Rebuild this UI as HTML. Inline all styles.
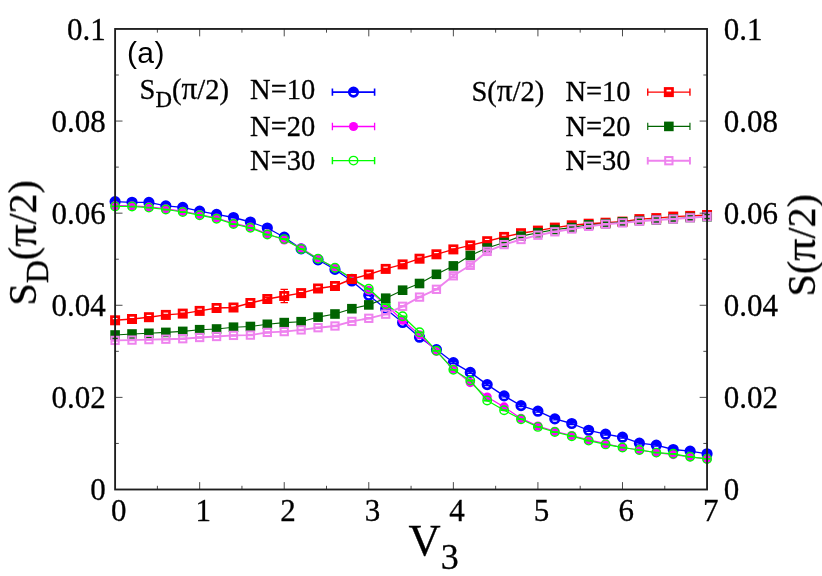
<!DOCTYPE html>
<html>
<head>
<meta charset="utf-8">
<title>Structure factors vs V3</title>
<style>
html,body{margin:0;padding:0;background:#fff;}
body{width:822px;height:576px;overflow:hidden;font-family:"Liberation Serif",serif;}
svg{display:block;}
</style>
</head>
<body>
<svg width="822" height="576" viewBox="0 0 822 576">
<rect width="822" height="576" fill="#fff"/>
<g font-family="'Liberation Serif', serif" fill="#000" stroke="#000" stroke-width="0.3" style="will-change:transform">
<g transform="translate(105.8 500.15)"><text transform="translate(-15.5 0)" font-size="31.0">0</text></g>
<g transform="translate(723.8 500.15)"><text transform="translate(0 0)" font-size="31.0">0</text></g>
<g transform="translate(105.8 408.04)"><text transform="translate(-54.25 0)" font-size="31.0">0.02</text></g>
<g transform="translate(723.8 408.04)"><text transform="translate(0 0)" font-size="31.0">0.02</text></g>
<g transform="translate(105.8 315.93)"><text transform="translate(-54.25 0)" font-size="31.0">0.04</text></g>
<g transform="translate(723.8 315.93)"><text transform="translate(0 0)" font-size="31.0">0.04</text></g>
<g transform="translate(105.8 223.82)"><text transform="translate(-54.25 0)" font-size="31.0">0.06</text></g>
<g transform="translate(723.8 223.82)"><text transform="translate(0 0)" font-size="31.0">0.06</text></g>
<g transform="translate(105.8 131.71)"><text transform="translate(-54.25 0)" font-size="31.0">0.08</text></g>
<g transform="translate(723.8 131.71)"><text transform="translate(0 0)" font-size="31.0">0.08</text></g>
<g transform="translate(105.8 39.6)"><text transform="translate(-38.75 0)" font-size="31.0">0.1</text></g>
<g transform="translate(723.8 39.6)"><text transform="translate(0 0)" font-size="31.0">0.1</text></g>
<g transform="translate(118.8 521)"><text transform="translate(-7.75 0)" font-size="31.0">0</text></g>
<g transform="translate(203.36 521)"><text transform="translate(-7.75 0)" font-size="31.0">1</text></g>
<g transform="translate(287.93 521)"><text transform="translate(-7.75 0)" font-size="31.0">2</text></g>
<g transform="translate(372.49 521)"><text transform="translate(-7.75 0)" font-size="31.0">3</text></g>
<g transform="translate(457.06 521)"><text transform="translate(-7.75 0)" font-size="31.0">4</text></g>
<g transform="translate(541.62 521)"><text transform="translate(-7.75 0)" font-size="31.0">5</text></g>
<g transform="translate(626.19 521)"><text transform="translate(-7.75 0)" font-size="31.0">6</text></g>
<g transform="translate(710.75 521)"><text transform="translate(-7.75 0)" font-size="31.0">7</text></g>
</g>
<g id="data">
<polyline points="115.1,201.6 132.01,202.3 148.93,202.4 165.84,205.9 182.75,207.4 199.66,211.2 216.58,214.4 233.49,217.5 250.4,222 267.32,228 284.23,237.2 301.14,248.9 318.05,259.8 334.97,269.4 351.88,281 368.79,295.3 385.71,308.8 402.62,322.5 419.53,337.2 436.44,349.6 453.36,362.6 470.27,372.4 487.18,384.6 504.1,395.9 521.01,405.6 537.92,411.2 554.83,418.9 571.75,423.5 588.66,430.3 605.57,434.2 622.49,437.2 639.4,443.2 656.31,445.2 673.22,449.5 690.14,451.2 707.05,453.8" fill="none" stroke="#0000ff" stroke-width="1.3" stroke-linejoin="round"/>
<path d="M115.1 201.2V202M111.4 201.2H118.8M111.4 202H118.8" stroke="#0000ff" stroke-width="1.3" fill="none"/>
<path d="M132.01 201.9V202.7M128.31 201.9H135.71M128.31 202.7H135.71" stroke="#0000ff" stroke-width="1.3" fill="none"/>
<path d="M148.93 202V202.8M145.23 202H152.63M145.23 202.8H152.63" stroke="#0000ff" stroke-width="1.3" fill="none"/>
<path d="M165.84 205.5V206.3M162.14 205.5H169.54M162.14 206.3H169.54" stroke="#0000ff" stroke-width="1.3" fill="none"/>
<path d="M182.75 207V207.8M179.05 207H186.45M179.05 207.8H186.45" stroke="#0000ff" stroke-width="1.3" fill="none"/>
<path d="M199.66 210.8V211.6M195.96 210.8H203.36M195.96 211.6H203.36" stroke="#0000ff" stroke-width="1.3" fill="none"/>
<path d="M216.58 214V214.8M212.88 214H220.28M212.88 214.8H220.28" stroke="#0000ff" stroke-width="1.3" fill="none"/>
<path d="M233.49 217.1V217.9M229.79 217.1H237.19M229.79 217.9H237.19" stroke="#0000ff" stroke-width="1.3" fill="none"/>
<path d="M250.4 221.6V222.4M246.7 221.6H254.1M246.7 222.4H254.1" stroke="#0000ff" stroke-width="1.3" fill="none"/>
<path d="M267.32 227.6V228.4M263.62 227.6H271.02M263.62 228.4H271.02" stroke="#0000ff" stroke-width="1.3" fill="none"/>
<path d="M284.23 236.8V237.6M280.53 236.8H287.93M280.53 237.6H287.93" stroke="#0000ff" stroke-width="1.3" fill="none"/>
<path d="M301.14 248.5V249.3M297.44 248.5H304.84M297.44 249.3H304.84" stroke="#0000ff" stroke-width="1.3" fill="none"/>
<path d="M318.05 259.4V260.2M314.35 259.4H321.75M314.35 260.2H321.75" stroke="#0000ff" stroke-width="1.3" fill="none"/>
<path d="M334.97 269V269.8M331.27 269H338.67M331.27 269.8H338.67" stroke="#0000ff" stroke-width="1.3" fill="none"/>
<path d="M351.88 280.6V281.4M348.18 280.6H355.58M348.18 281.4H355.58" stroke="#0000ff" stroke-width="1.3" fill="none"/>
<path d="M368.79 294.9V295.7M365.09 294.9H372.49M365.09 295.7H372.49" stroke="#0000ff" stroke-width="1.3" fill="none"/>
<path d="M385.71 308.4V309.2M382.01 308.4H389.41M382.01 309.2H389.41" stroke="#0000ff" stroke-width="1.3" fill="none"/>
<path d="M402.62 322.1V322.9M398.92 322.1H406.32M398.92 322.9H406.32" stroke="#0000ff" stroke-width="1.3" fill="none"/>
<path d="M419.53 336.8V337.6M415.83 336.8H423.23M415.83 337.6H423.23" stroke="#0000ff" stroke-width="1.3" fill="none"/>
<path d="M436.44 348.6V350.6M432.74 348.6H440.14M432.74 350.6H440.14" stroke="#0000ff" stroke-width="1.3" fill="none"/>
<path d="M453.36 361.6V363.6M449.66 361.6H457.06M449.66 363.6H457.06" stroke="#0000ff" stroke-width="1.3" fill="none"/>
<path d="M470.27 371.4V373.4M466.57 371.4H473.97M466.57 373.4H473.97" stroke="#0000ff" stroke-width="1.3" fill="none"/>
<path d="M487.18 383.6V385.6M483.48 383.6H490.88M483.48 385.6H490.88" stroke="#0000ff" stroke-width="1.3" fill="none"/>
<path d="M504.1 394.9V396.9M500.4 394.9H507.8M500.4 396.9H507.8" stroke="#0000ff" stroke-width="1.3" fill="none"/>
<path d="M521.01 404.6V406.6M517.31 404.6H524.71M517.31 406.6H524.71" stroke="#0000ff" stroke-width="1.3" fill="none"/>
<path d="M537.92 410.2V412.2M534.22 410.2H541.62M534.22 412.2H541.62" stroke="#0000ff" stroke-width="1.3" fill="none"/>
<path d="M554.83 417.9V419.9M551.13 417.9H558.53M551.13 419.9H558.53" stroke="#0000ff" stroke-width="1.3" fill="none"/>
<path d="M571.75 422.5V424.5M568.05 422.5H575.45M568.05 424.5H575.45" stroke="#0000ff" stroke-width="1.3" fill="none"/>
<path d="M588.66 429.3V431.3M584.96 429.3H592.36M584.96 431.3H592.36" stroke="#0000ff" stroke-width="1.3" fill="none"/>
<path d="M605.57 433.2V435.2M601.87 433.2H609.27M601.87 435.2H609.27" stroke="#0000ff" stroke-width="1.3" fill="none"/>
<path d="M622.49 436.2V438.2M618.79 436.2H626.19M618.79 438.2H626.19" stroke="#0000ff" stroke-width="1.3" fill="none"/>
<path d="M639.4 442.2V444.2M635.7 442.2H643.1M635.7 444.2H643.1" stroke="#0000ff" stroke-width="1.3" fill="none"/>
<path d="M656.31 444.2V446.2M652.61 444.2H660.01M652.61 446.2H660.01" stroke="#0000ff" stroke-width="1.3" fill="none"/>
<path d="M673.22 448.5V450.5M669.52 448.5H676.92M669.52 450.5H676.92" stroke="#0000ff" stroke-width="1.3" fill="none"/>
<path d="M690.14 450.2V452.2M686.44 450.2H693.84M686.44 452.2H693.84" stroke="#0000ff" stroke-width="1.3" fill="none"/>
<path d="M707.05 452.8V454.8M703.35 452.8H710.75M703.35 454.8H710.75" stroke="#0000ff" stroke-width="1.3" fill="none"/>
<path d="M110.85 201.6A4.25 4.25 0 0 1 119.35 201.6Z" fill="#0000ff"/><circle cx="115.1" cy="201.6" r="4.25" fill="none" stroke="#0000ff" stroke-width="2.7"/>
<path d="M127.76 202.3A4.25 4.25 0 0 1 136.26 202.3Z" fill="#0000ff"/><circle cx="132.01" cy="202.3" r="4.25" fill="none" stroke="#0000ff" stroke-width="2.7"/>
<path d="M144.68 202.4A4.25 4.25 0 0 1 153.18 202.4Z" fill="#0000ff"/><circle cx="148.93" cy="202.4" r="4.25" fill="none" stroke="#0000ff" stroke-width="2.7"/>
<path d="M161.59 205.9A4.25 4.25 0 0 1 170.09 205.9Z" fill="#0000ff"/><circle cx="165.84" cy="205.9" r="4.25" fill="none" stroke="#0000ff" stroke-width="2.7"/>
<path d="M178.5 207.4A4.25 4.25 0 0 1 187 207.4Z" fill="#0000ff"/><circle cx="182.75" cy="207.4" r="4.25" fill="none" stroke="#0000ff" stroke-width="2.7"/>
<path d="M195.41 211.2A4.25 4.25 0 0 1 203.91 211.2Z" fill="#0000ff"/><circle cx="199.66" cy="211.2" r="4.25" fill="none" stroke="#0000ff" stroke-width="2.7"/>
<path d="M212.33 214.4A4.25 4.25 0 0 1 220.83 214.4Z" fill="#0000ff"/><circle cx="216.58" cy="214.4" r="4.25" fill="none" stroke="#0000ff" stroke-width="2.7"/>
<path d="M229.24 217.5A4.25 4.25 0 0 1 237.74 217.5Z" fill="#0000ff"/><circle cx="233.49" cy="217.5" r="4.25" fill="none" stroke="#0000ff" stroke-width="2.7"/>
<path d="M246.15 222A4.25 4.25 0 0 1 254.65 222Z" fill="#0000ff"/><circle cx="250.4" cy="222" r="4.25" fill="none" stroke="#0000ff" stroke-width="2.7"/>
<path d="M263.07 228A4.25 4.25 0 0 1 271.57 228Z" fill="#0000ff"/><circle cx="267.32" cy="228" r="4.25" fill="none" stroke="#0000ff" stroke-width="2.7"/>
<path d="M279.98 237.2A4.25 4.25 0 0 1 288.48 237.2Z" fill="#0000ff"/><circle cx="284.23" cy="237.2" r="4.25" fill="none" stroke="#0000ff" stroke-width="2.7"/>
<path d="M296.89 248.9A4.25 4.25 0 0 1 305.39 248.9Z" fill="#0000ff"/><circle cx="301.14" cy="248.9" r="4.25" fill="none" stroke="#0000ff" stroke-width="2.7"/>
<path d="M313.8 259.8A4.25 4.25 0 0 1 322.3 259.8Z" fill="#0000ff"/><circle cx="318.05" cy="259.8" r="4.25" fill="none" stroke="#0000ff" stroke-width="2.7"/>
<path d="M330.72 269.4A4.25 4.25 0 0 1 339.22 269.4Z" fill="#0000ff"/><circle cx="334.97" cy="269.4" r="4.25" fill="none" stroke="#0000ff" stroke-width="2.7"/>
<path d="M347.63 281A4.25 4.25 0 0 1 356.13 281Z" fill="#0000ff"/><circle cx="351.88" cy="281" r="4.25" fill="none" stroke="#0000ff" stroke-width="2.7"/>
<path d="M364.54 295.3A4.25 4.25 0 0 1 373.04 295.3Z" fill="#0000ff"/><circle cx="368.79" cy="295.3" r="4.25" fill="none" stroke="#0000ff" stroke-width="2.7"/>
<path d="M381.46 308.8A4.25 4.25 0 0 1 389.96 308.8Z" fill="#0000ff"/><circle cx="385.71" cy="308.8" r="4.25" fill="none" stroke="#0000ff" stroke-width="2.7"/>
<path d="M398.37 322.5A4.25 4.25 0 0 1 406.87 322.5Z" fill="#0000ff"/><circle cx="402.62" cy="322.5" r="4.25" fill="none" stroke="#0000ff" stroke-width="2.7"/>
<path d="M415.28 337.2A4.25 4.25 0 0 1 423.78 337.2Z" fill="#0000ff"/><circle cx="419.53" cy="337.2" r="4.25" fill="none" stroke="#0000ff" stroke-width="2.7"/>
<path d="M432.19 349.6A4.25 4.25 0 0 1 440.69 349.6Z" fill="#0000ff"/><circle cx="436.44" cy="349.6" r="4.25" fill="none" stroke="#0000ff" stroke-width="2.7"/>
<path d="M449.11 362.6A4.25 4.25 0 0 1 457.61 362.6Z" fill="#0000ff"/><circle cx="453.36" cy="362.6" r="4.25" fill="none" stroke="#0000ff" stroke-width="2.7"/>
<path d="M466.02 372.4A4.25 4.25 0 0 1 474.52 372.4Z" fill="#0000ff"/><circle cx="470.27" cy="372.4" r="4.25" fill="none" stroke="#0000ff" stroke-width="2.7"/>
<path d="M482.93 384.6A4.25 4.25 0 0 1 491.43 384.6Z" fill="#0000ff"/><circle cx="487.18" cy="384.6" r="4.25" fill="none" stroke="#0000ff" stroke-width="2.7"/>
<path d="M499.85 395.9A4.25 4.25 0 0 1 508.35 395.9Z" fill="#0000ff"/><circle cx="504.1" cy="395.9" r="4.25" fill="none" stroke="#0000ff" stroke-width="2.7"/>
<path d="M516.76 405.6A4.25 4.25 0 0 1 525.26 405.6Z" fill="#0000ff"/><circle cx="521.01" cy="405.6" r="4.25" fill="none" stroke="#0000ff" stroke-width="2.7"/>
<path d="M533.67 411.2A4.25 4.25 0 0 1 542.17 411.2Z" fill="#0000ff"/><circle cx="537.92" cy="411.2" r="4.25" fill="none" stroke="#0000ff" stroke-width="2.7"/>
<path d="M550.58 418.9A4.25 4.25 0 0 1 559.08 418.9Z" fill="#0000ff"/><circle cx="554.83" cy="418.9" r="4.25" fill="none" stroke="#0000ff" stroke-width="2.7"/>
<path d="M567.5 423.5A4.25 4.25 0 0 1 576 423.5Z" fill="#0000ff"/><circle cx="571.75" cy="423.5" r="4.25" fill="none" stroke="#0000ff" stroke-width="2.7"/>
<path d="M584.41 430.3A4.25 4.25 0 0 1 592.91 430.3Z" fill="#0000ff"/><circle cx="588.66" cy="430.3" r="4.25" fill="none" stroke="#0000ff" stroke-width="2.7"/>
<path d="M601.32 434.2A4.25 4.25 0 0 1 609.82 434.2Z" fill="#0000ff"/><circle cx="605.57" cy="434.2" r="4.25" fill="none" stroke="#0000ff" stroke-width="2.7"/>
<path d="M618.24 437.2A4.25 4.25 0 0 1 626.74 437.2Z" fill="#0000ff"/><circle cx="622.49" cy="437.2" r="4.25" fill="none" stroke="#0000ff" stroke-width="2.7"/>
<path d="M635.15 443.2A4.25 4.25 0 0 1 643.65 443.2Z" fill="#0000ff"/><circle cx="639.4" cy="443.2" r="4.25" fill="none" stroke="#0000ff" stroke-width="2.7"/>
<path d="M652.06 445.2A4.25 4.25 0 0 1 660.56 445.2Z" fill="#0000ff"/><circle cx="656.31" cy="445.2" r="4.25" fill="none" stroke="#0000ff" stroke-width="2.7"/>
<path d="M668.97 449.5A4.25 4.25 0 0 1 677.47 449.5Z" fill="#0000ff"/><circle cx="673.22" cy="449.5" r="4.25" fill="none" stroke="#0000ff" stroke-width="2.7"/>
<path d="M685.89 451.2A4.25 4.25 0 0 1 694.39 451.2Z" fill="#0000ff"/><circle cx="690.14" cy="451.2" r="4.25" fill="none" stroke="#0000ff" stroke-width="2.7"/>
<path d="M702.8 453.8A4.25 4.25 0 0 1 711.3 453.8Z" fill="#0000ff"/><circle cx="707.05" cy="453.8" r="4.25" fill="none" stroke="#0000ff" stroke-width="2.7"/>
<polyline points="115.1,205.7 132.01,205.8 148.93,206.9 165.84,208.8 182.75,211.3 199.66,214.5 216.58,218 233.49,223.3 250.4,227.1 267.32,233.8 284.23,240 301.14,248 318.05,258.7 334.97,267.7 351.88,278.6 368.79,290.4 385.71,304.9 402.62,320.2 419.53,334.8 436.44,351.2 453.36,369 470.27,382.6 487.18,397.1 504.1,406.9 521.01,418.4 537.92,426 554.83,431.3 571.75,435.5 588.66,439.9 605.57,443.7 622.49,447.5 639.4,450 656.31,452.6 673.22,454.6 690.14,456.8 707.05,458.9" fill="none" stroke="#ff00ff" stroke-width="1.2" stroke-linejoin="round"/>
<path d="M111.4 205.7H118.8" stroke="#ff00ff" stroke-width="1.2" fill="none"/>
<path d="M128.31 205.8H135.71" stroke="#ff00ff" stroke-width="1.2" fill="none"/>
<path d="M145.23 206.9H152.63" stroke="#ff00ff" stroke-width="1.2" fill="none"/>
<path d="M162.14 208.8H169.54" stroke="#ff00ff" stroke-width="1.2" fill="none"/>
<path d="M179.05 211.3H186.45" stroke="#ff00ff" stroke-width="1.2" fill="none"/>
<path d="M195.96 214.5H203.36" stroke="#ff00ff" stroke-width="1.2" fill="none"/>
<path d="M212.88 218H220.28" stroke="#ff00ff" stroke-width="1.2" fill="none"/>
<path d="M229.79 223.3H237.19" stroke="#ff00ff" stroke-width="1.2" fill="none"/>
<path d="M246.7 227.1H254.1" stroke="#ff00ff" stroke-width="1.2" fill="none"/>
<path d="M263.62 233.8H271.02" stroke="#ff00ff" stroke-width="1.2" fill="none"/>
<path d="M280.53 240H287.93" stroke="#ff00ff" stroke-width="1.2" fill="none"/>
<path d="M297.44 248H304.84" stroke="#ff00ff" stroke-width="1.2" fill="none"/>
<path d="M314.35 258.7H321.75" stroke="#ff00ff" stroke-width="1.2" fill="none"/>
<path d="M331.27 267.7H338.67" stroke="#ff00ff" stroke-width="1.2" fill="none"/>
<path d="M348.18 278.6H355.58" stroke="#ff00ff" stroke-width="1.2" fill="none"/>
<path d="M365.09 290.4H372.49" stroke="#ff00ff" stroke-width="1.2" fill="none"/>
<path d="M382.01 304.9H389.41" stroke="#ff00ff" stroke-width="1.2" fill="none"/>
<path d="M398.92 320.2H406.32" stroke="#ff00ff" stroke-width="1.2" fill="none"/>
<path d="M415.83 334.8H423.23" stroke="#ff00ff" stroke-width="1.2" fill="none"/>
<path d="M432.74 351.2H440.14" stroke="#ff00ff" stroke-width="1.2" fill="none"/>
<path d="M449.66 369H457.06" stroke="#ff00ff" stroke-width="1.2" fill="none"/>
<path d="M466.57 382.6H473.97" stroke="#ff00ff" stroke-width="1.2" fill="none"/>
<path d="M483.48 397.1H490.88" stroke="#ff00ff" stroke-width="1.2" fill="none"/>
<path d="M500.4 406.9H507.8" stroke="#ff00ff" stroke-width="1.2" fill="none"/>
<path d="M517.31 418.4H524.71" stroke="#ff00ff" stroke-width="1.2" fill="none"/>
<path d="M534.22 426H541.62" stroke="#ff00ff" stroke-width="1.2" fill="none"/>
<path d="M551.13 431.3H558.53" stroke="#ff00ff" stroke-width="1.2" fill="none"/>
<path d="M568.05 435.5H575.45" stroke="#ff00ff" stroke-width="1.2" fill="none"/>
<path d="M584.96 439.9H592.36" stroke="#ff00ff" stroke-width="1.2" fill="none"/>
<path d="M601.87 443.7H609.27" stroke="#ff00ff" stroke-width="1.2" fill="none"/>
<path d="M618.79 447.5H626.19" stroke="#ff00ff" stroke-width="1.2" fill="none"/>
<path d="M635.7 450H643.1" stroke="#ff00ff" stroke-width="1.2" fill="none"/>
<path d="M652.61 452.6H660.01" stroke="#ff00ff" stroke-width="1.2" fill="none"/>
<path d="M669.52 454.6H676.92" stroke="#ff00ff" stroke-width="1.2" fill="none"/>
<path d="M686.44 456.8H693.84" stroke="#ff00ff" stroke-width="1.2" fill="none"/>
<path d="M703.35 458.9H710.75" stroke="#ff00ff" stroke-width="1.2" fill="none"/>
<circle cx="115.1" cy="205.7" r="4.6" fill="#ff00ff"/>
<circle cx="132.01" cy="205.8" r="4.6" fill="#ff00ff"/>
<circle cx="148.93" cy="206.9" r="4.6" fill="#ff00ff"/>
<circle cx="165.84" cy="208.8" r="4.6" fill="#ff00ff"/>
<circle cx="182.75" cy="211.3" r="4.6" fill="#ff00ff"/>
<circle cx="199.66" cy="214.5" r="4.6" fill="#ff00ff"/>
<circle cx="216.58" cy="218" r="4.6" fill="#ff00ff"/>
<circle cx="233.49" cy="223.3" r="4.6" fill="#ff00ff"/>
<circle cx="250.4" cy="227.1" r="4.6" fill="#ff00ff"/>
<circle cx="267.32" cy="233.8" r="4.6" fill="#ff00ff"/>
<circle cx="284.23" cy="240" r="4.6" fill="#ff00ff"/>
<circle cx="301.14" cy="248" r="4.6" fill="#ff00ff"/>
<circle cx="318.05" cy="258.7" r="4.6" fill="#ff00ff"/>
<circle cx="334.97" cy="267.7" r="4.6" fill="#ff00ff"/>
<circle cx="351.88" cy="278.6" r="4.6" fill="#ff00ff"/>
<circle cx="368.79" cy="290.4" r="4.6" fill="#ff00ff"/>
<circle cx="385.71" cy="304.9" r="4.6" fill="#ff00ff"/>
<circle cx="402.62" cy="320.2" r="4.6" fill="#ff00ff"/>
<circle cx="419.53" cy="334.8" r="4.6" fill="#ff00ff"/>
<circle cx="436.44" cy="351.2" r="4.6" fill="#ff00ff"/>
<circle cx="453.36" cy="369" r="4.6" fill="#ff00ff"/>
<circle cx="470.27" cy="382.6" r="4.6" fill="#ff00ff"/>
<circle cx="487.18" cy="397.1" r="4.6" fill="#ff00ff"/>
<circle cx="504.1" cy="406.9" r="4.6" fill="#ff00ff"/>
<circle cx="521.01" cy="418.4" r="4.6" fill="#ff00ff"/>
<circle cx="537.92" cy="426" r="4.6" fill="#ff00ff"/>
<circle cx="554.83" cy="431.3" r="4.6" fill="#ff00ff"/>
<circle cx="571.75" cy="435.5" r="4.6" fill="#ff00ff"/>
<circle cx="588.66" cy="439.9" r="4.6" fill="#ff00ff"/>
<circle cx="605.57" cy="443.7" r="4.6" fill="#ff00ff"/>
<circle cx="622.49" cy="447.5" r="4.6" fill="#ff00ff"/>
<circle cx="639.4" cy="450" r="4.6" fill="#ff00ff"/>
<circle cx="656.31" cy="452.6" r="4.6" fill="#ff00ff"/>
<circle cx="673.22" cy="454.6" r="4.6" fill="#ff00ff"/>
<circle cx="690.14" cy="456.8" r="4.6" fill="#ff00ff"/>
<circle cx="707.05" cy="458.9" r="4.6" fill="#ff00ff"/>
<polyline points="115.1,206.4 132.01,206.5 148.93,207.6 165.84,209.5 182.75,212 199.66,215.2 216.58,218.7 233.49,224 250.4,227.8 267.32,234.5 284.23,239.1 301.14,249 318.05,258.7 334.97,267.7 351.88,278.6 368.79,288.8 385.71,304 402.62,316.3 419.53,332.3 436.44,350.8 453.36,369.8 470.27,380.5 487.18,400.5 504.1,410.2 521.01,419.2 537.92,426.9 554.83,432 571.75,436.2 588.66,440.6 605.57,444.4 622.49,447.5 639.4,450 656.31,452.6 673.22,453.8 690.14,456.8 707.05,458.9" fill="none" stroke="#00ff00" stroke-width="1.25" stroke-linejoin="round"/>
<path d="M115.1 206.15V206.65M111.4 206.15H118.8M111.4 206.65H118.8" stroke="#00ff00" stroke-width="1.25" fill="none"/>
<path d="M132.01 206.25V206.75M128.31 206.25H135.71M128.31 206.75H135.71" stroke="#00ff00" stroke-width="1.25" fill="none"/>
<path d="M148.93 207.35V207.85M145.23 207.35H152.63M145.23 207.85H152.63" stroke="#00ff00" stroke-width="1.25" fill="none"/>
<path d="M165.84 209.25V209.75M162.14 209.25H169.54M162.14 209.75H169.54" stroke="#00ff00" stroke-width="1.25" fill="none"/>
<path d="M182.75 211.75V212.25M179.05 211.75H186.45M179.05 212.25H186.45" stroke="#00ff00" stroke-width="1.25" fill="none"/>
<path d="M199.66 214.95V215.45M195.96 214.95H203.36M195.96 215.45H203.36" stroke="#00ff00" stroke-width="1.25" fill="none"/>
<path d="M216.58 218.45V218.95M212.88 218.45H220.28M212.88 218.95H220.28" stroke="#00ff00" stroke-width="1.25" fill="none"/>
<path d="M233.49 223.75V224.25M229.79 223.75H237.19M229.79 224.25H237.19" stroke="#00ff00" stroke-width="1.25" fill="none"/>
<path d="M250.4 227.55V228.05M246.7 227.55H254.1M246.7 228.05H254.1" stroke="#00ff00" stroke-width="1.25" fill="none"/>
<path d="M267.32 234.25V234.75M263.62 234.25H271.02M263.62 234.75H271.02" stroke="#00ff00" stroke-width="1.25" fill="none"/>
<path d="M284.23 238.85V239.35M280.53 238.85H287.93M280.53 239.35H287.93" stroke="#00ff00" stroke-width="1.25" fill="none"/>
<path d="M301.14 248.75V249.25M297.44 248.75H304.84M297.44 249.25H304.84" stroke="#00ff00" stroke-width="1.25" fill="none"/>
<path d="M318.05 258.45V258.95M314.35 258.45H321.75M314.35 258.95H321.75" stroke="#00ff00" stroke-width="1.25" fill="none"/>
<path d="M334.97 267.45V267.95M331.27 267.45H338.67M331.27 267.95H338.67" stroke="#00ff00" stroke-width="1.25" fill="none"/>
<path d="M351.88 278.35V278.85M348.18 278.35H355.58M348.18 278.85H355.58" stroke="#00ff00" stroke-width="1.25" fill="none"/>
<path d="M368.79 288.55V289.05M365.09 288.55H372.49M365.09 289.05H372.49" stroke="#00ff00" stroke-width="1.25" fill="none"/>
<path d="M385.71 303.75V304.25M382.01 303.75H389.41M382.01 304.25H389.41" stroke="#00ff00" stroke-width="1.25" fill="none"/>
<path d="M402.62 316.05V316.55M398.92 316.05H406.32M398.92 316.55H406.32" stroke="#00ff00" stroke-width="1.25" fill="none"/>
<path d="M419.53 332.05V332.55M415.83 332.05H423.23M415.83 332.55H423.23" stroke="#00ff00" stroke-width="1.25" fill="none"/>
<path d="M436.44 350.55V351.05M432.74 350.55H440.14M432.74 351.05H440.14" stroke="#00ff00" stroke-width="1.25" fill="none"/>
<path d="M453.36 369.55V370.05M449.66 369.55H457.06M449.66 370.05H457.06" stroke="#00ff00" stroke-width="1.25" fill="none"/>
<path d="M470.27 380.25V380.75M466.57 380.25H473.97M466.57 380.75H473.97" stroke="#00ff00" stroke-width="1.25" fill="none"/>
<path d="M487.18 400.25V400.75M483.48 400.25H490.88M483.48 400.75H490.88" stroke="#00ff00" stroke-width="1.25" fill="none"/>
<path d="M504.1 409.95V410.45M500.4 409.95H507.8M500.4 410.45H507.8" stroke="#00ff00" stroke-width="1.25" fill="none"/>
<path d="M521.01 418.95V419.45M517.31 418.95H524.71M517.31 419.45H524.71" stroke="#00ff00" stroke-width="1.25" fill="none"/>
<path d="M537.92 426.65V427.15M534.22 426.65H541.62M534.22 427.15H541.62" stroke="#00ff00" stroke-width="1.25" fill="none"/>
<path d="M554.83 431.75V432.25M551.13 431.75H558.53M551.13 432.25H558.53" stroke="#00ff00" stroke-width="1.25" fill="none"/>
<path d="M571.75 435.95V436.45M568.05 435.95H575.45M568.05 436.45H575.45" stroke="#00ff00" stroke-width="1.25" fill="none"/>
<path d="M588.66 440.35V440.85M584.96 440.35H592.36M584.96 440.85H592.36" stroke="#00ff00" stroke-width="1.25" fill="none"/>
<path d="M605.57 444.15V444.65M601.87 444.15H609.27M601.87 444.65H609.27" stroke="#00ff00" stroke-width="1.25" fill="none"/>
<path d="M622.49 447.25V447.75M618.79 447.25H626.19M618.79 447.75H626.19" stroke="#00ff00" stroke-width="1.25" fill="none"/>
<path d="M639.4 449.75V450.25M635.7 449.75H643.1M635.7 450.25H643.1" stroke="#00ff00" stroke-width="1.25" fill="none"/>
<path d="M656.31 452.35V452.85M652.61 452.35H660.01M652.61 452.85H660.01" stroke="#00ff00" stroke-width="1.25" fill="none"/>
<path d="M673.22 453.55V454.05M669.52 453.55H676.92M669.52 454.05H676.92" stroke="#00ff00" stroke-width="1.25" fill="none"/>
<path d="M690.14 456.55V457.05M686.44 456.55H693.84M686.44 457.05H693.84" stroke="#00ff00" stroke-width="1.25" fill="none"/>
<path d="M707.05 458.65V459.15M703.35 458.65H710.75M703.35 459.15H710.75" stroke="#00ff00" stroke-width="1.25" fill="none"/>
<circle cx="115.1" cy="206.4" r="4.25" fill="none" stroke="#00ff00" stroke-width="1.4"/>
<circle cx="132.01" cy="206.5" r="4.25" fill="none" stroke="#00ff00" stroke-width="1.4"/>
<circle cx="148.93" cy="207.6" r="4.25" fill="none" stroke="#00ff00" stroke-width="1.4"/>
<circle cx="165.84" cy="209.5" r="4.25" fill="none" stroke="#00ff00" stroke-width="1.4"/>
<circle cx="182.75" cy="212" r="4.25" fill="none" stroke="#00ff00" stroke-width="1.4"/>
<circle cx="199.66" cy="215.2" r="4.25" fill="none" stroke="#00ff00" stroke-width="1.4"/>
<circle cx="216.58" cy="218.7" r="4.25" fill="none" stroke="#00ff00" stroke-width="1.4"/>
<circle cx="233.49" cy="224" r="4.25" fill="none" stroke="#00ff00" stroke-width="1.4"/>
<circle cx="250.4" cy="227.8" r="4.25" fill="none" stroke="#00ff00" stroke-width="1.4"/>
<circle cx="267.32" cy="234.5" r="4.25" fill="none" stroke="#00ff00" stroke-width="1.4"/>
<circle cx="284.23" cy="239.1" r="4.25" fill="none" stroke="#00ff00" stroke-width="1.4"/>
<circle cx="301.14" cy="249" r="4.25" fill="none" stroke="#00ff00" stroke-width="1.4"/>
<circle cx="318.05" cy="258.7" r="4.25" fill="none" stroke="#00ff00" stroke-width="1.4"/>
<circle cx="334.97" cy="267.7" r="4.25" fill="none" stroke="#00ff00" stroke-width="1.4"/>
<circle cx="351.88" cy="278.6" r="4.25" fill="none" stroke="#00ff00" stroke-width="1.4"/>
<circle cx="368.79" cy="288.8" r="4.25" fill="none" stroke="#00ff00" stroke-width="1.4"/>
<circle cx="385.71" cy="304" r="4.25" fill="none" stroke="#00ff00" stroke-width="1.4"/>
<circle cx="402.62" cy="316.3" r="4.25" fill="none" stroke="#00ff00" stroke-width="1.4"/>
<circle cx="419.53" cy="332.3" r="4.25" fill="none" stroke="#00ff00" stroke-width="1.4"/>
<circle cx="436.44" cy="350.8" r="4.25" fill="none" stroke="#00ff00" stroke-width="1.4"/>
<circle cx="453.36" cy="369.8" r="4.25" fill="none" stroke="#00ff00" stroke-width="1.4"/>
<circle cx="470.27" cy="380.5" r="4.25" fill="none" stroke="#00ff00" stroke-width="1.4"/>
<circle cx="487.18" cy="400.5" r="4.25" fill="none" stroke="#00ff00" stroke-width="1.4"/>
<circle cx="504.1" cy="410.2" r="4.25" fill="none" stroke="#00ff00" stroke-width="1.4"/>
<circle cx="521.01" cy="419.2" r="4.25" fill="none" stroke="#00ff00" stroke-width="1.4"/>
<circle cx="537.92" cy="426.9" r="4.25" fill="none" stroke="#00ff00" stroke-width="1.4"/>
<circle cx="554.83" cy="432" r="4.25" fill="none" stroke="#00ff00" stroke-width="1.4"/>
<circle cx="571.75" cy="436.2" r="4.25" fill="none" stroke="#00ff00" stroke-width="1.4"/>
<circle cx="588.66" cy="440.6" r="4.25" fill="none" stroke="#00ff00" stroke-width="1.4"/>
<circle cx="605.57" cy="444.4" r="4.25" fill="none" stroke="#00ff00" stroke-width="1.4"/>
<circle cx="622.49" cy="447.5" r="4.25" fill="none" stroke="#00ff00" stroke-width="1.4"/>
<circle cx="639.4" cy="450" r="4.25" fill="none" stroke="#00ff00" stroke-width="1.4"/>
<circle cx="656.31" cy="452.6" r="4.25" fill="none" stroke="#00ff00" stroke-width="1.4"/>
<circle cx="673.22" cy="453.8" r="4.25" fill="none" stroke="#00ff00" stroke-width="1.4"/>
<circle cx="690.14" cy="456.8" r="4.25" fill="none" stroke="#00ff00" stroke-width="1.4"/>
<circle cx="707.05" cy="458.9" r="4.25" fill="none" stroke="#00ff00" stroke-width="1.4"/>
<polyline points="115.1,320.3 132.01,319 148.93,317.2 165.84,314.9 182.75,313.6 199.66,310.9 216.58,308 233.49,307.5 250.4,303 267.32,299 284.23,296 301.14,293.1 318.05,288.5 334.97,286 351.88,279 368.79,274.5 385.71,268.9 402.62,264.4 419.53,258.7 436.44,254.3 453.36,249.4 470.27,245.4 487.18,241.2 504.1,236.9 521.01,233.2 537.92,230.6 554.83,227.6 571.75,225.3 588.66,223.7 605.57,222.7 622.49,221.6 639.4,219.1 656.31,218.1 673.22,216.6 690.14,215.9 707.05,215" fill="none" stroke="#ff0000" stroke-width="1.4" stroke-linejoin="round"/>
<path d="M115.1 319.9V320.7M111.4 319.9H118.8M111.4 320.7H118.8" stroke="#ff0000" stroke-width="1.4" fill="none"/>
<path d="M132.01 318.6V319.4M128.31 318.6H135.71M128.31 319.4H135.71" stroke="#ff0000" stroke-width="1.4" fill="none"/>
<path d="M148.93 316.8V317.6M145.23 316.8H152.63M145.23 317.6H152.63" stroke="#ff0000" stroke-width="1.4" fill="none"/>
<path d="M165.84 314.5V315.3M162.14 314.5H169.54M162.14 315.3H169.54" stroke="#ff0000" stroke-width="1.4" fill="none"/>
<path d="M182.75 313.2V314M179.05 313.2H186.45M179.05 314H186.45" stroke="#ff0000" stroke-width="1.4" fill="none"/>
<path d="M199.66 310.5V311.3M195.96 310.5H203.36M195.96 311.3H203.36" stroke="#ff0000" stroke-width="1.4" fill="none"/>
<path d="M216.58 307.6V308.4M212.88 307.6H220.28M212.88 308.4H220.28" stroke="#ff0000" stroke-width="1.4" fill="none"/>
<path d="M233.49 307.1V307.9M229.79 307.1H237.19M229.79 307.9H237.19" stroke="#ff0000" stroke-width="1.4" fill="none"/>
<path d="M250.4 302.6V303.4M246.7 302.6H254.1M246.7 303.4H254.1" stroke="#ff0000" stroke-width="1.4" fill="none"/>
<path d="M267.32 297.5V300.5M263.62 297.5H271.02M263.62 300.5H271.02" stroke="#ff0000" stroke-width="1.4" fill="none"/>
<path d="M284.23 289.4V302.6M280.53 289.4H287.93M280.53 302.6H287.93" stroke="#ff0000" stroke-width="1.4" fill="none"/>
<path d="M301.14 292.7V293.5M297.44 292.7H304.84M297.44 293.5H304.84" stroke="#ff0000" stroke-width="1.4" fill="none"/>
<path d="M318.05 288.1V288.9M314.35 288.1H321.75M314.35 288.9H321.75" stroke="#ff0000" stroke-width="1.4" fill="none"/>
<path d="M334.97 285.6V286.4M331.27 285.6H338.67M331.27 286.4H338.67" stroke="#ff0000" stroke-width="1.4" fill="none"/>
<path d="M351.88 278.6V279.4M348.18 278.6H355.58M348.18 279.4H355.58" stroke="#ff0000" stroke-width="1.4" fill="none"/>
<path d="M368.79 274.1V274.9M365.09 274.1H372.49M365.09 274.9H372.49" stroke="#ff0000" stroke-width="1.4" fill="none"/>
<path d="M385.71 268.5V269.3M382.01 268.5H389.41M382.01 269.3H389.41" stroke="#ff0000" stroke-width="1.4" fill="none"/>
<path d="M402.62 264V264.8M398.92 264H406.32M398.92 264.8H406.32" stroke="#ff0000" stroke-width="1.4" fill="none"/>
<path d="M419.53 258.3V259.1M415.83 258.3H423.23M415.83 259.1H423.23" stroke="#ff0000" stroke-width="1.4" fill="none"/>
<path d="M436.44 253.9V254.7M432.74 253.9H440.14M432.74 254.7H440.14" stroke="#ff0000" stroke-width="1.4" fill="none"/>
<path d="M453.36 249V249.8M449.66 249H457.06M449.66 249.8H457.06" stroke="#ff0000" stroke-width="1.4" fill="none"/>
<path d="M470.27 245V245.8M466.57 245H473.97M466.57 245.8H473.97" stroke="#ff0000" stroke-width="1.4" fill="none"/>
<path d="M487.18 240.8V241.6M483.48 240.8H490.88M483.48 241.6H490.88" stroke="#ff0000" stroke-width="1.4" fill="none"/>
<path d="M504.1 236.5V237.3M500.4 236.5H507.8M500.4 237.3H507.8" stroke="#ff0000" stroke-width="1.4" fill="none"/>
<path d="M521.01 232.8V233.6M517.31 232.8H524.71M517.31 233.6H524.71" stroke="#ff0000" stroke-width="1.4" fill="none"/>
<path d="M537.92 230.2V231M534.22 230.2H541.62M534.22 231H541.62" stroke="#ff0000" stroke-width="1.4" fill="none"/>
<path d="M554.83 227.2V228M551.13 227.2H558.53M551.13 228H558.53" stroke="#ff0000" stroke-width="1.4" fill="none"/>
<path d="M571.75 224.9V225.7M568.05 224.9H575.45M568.05 225.7H575.45" stroke="#ff0000" stroke-width="1.4" fill="none"/>
<path d="M588.66 223.3V224.1M584.96 223.3H592.36M584.96 224.1H592.36" stroke="#ff0000" stroke-width="1.4" fill="none"/>
<path d="M605.57 222.3V223.1M601.87 222.3H609.27M601.87 223.1H609.27" stroke="#ff0000" stroke-width="1.4" fill="none"/>
<path d="M622.49 221.2V222M618.79 221.2H626.19M618.79 222H626.19" stroke="#ff0000" stroke-width="1.4" fill="none"/>
<path d="M639.4 218.7V219.5M635.7 218.7H643.1M635.7 219.5H643.1" stroke="#ff0000" stroke-width="1.4" fill="none"/>
<path d="M656.31 217.7V218.5M652.61 217.7H660.01M652.61 218.5H660.01" stroke="#ff0000" stroke-width="1.4" fill="none"/>
<path d="M673.22 216.2V217M669.52 216.2H676.92M669.52 217H676.92" stroke="#ff0000" stroke-width="1.4" fill="none"/>
<path d="M690.14 215.5V216.3M686.44 215.5H693.84M686.44 216.3H693.84" stroke="#ff0000" stroke-width="1.4" fill="none"/>
<path d="M707.05 214.6V215.4M703.35 214.6H710.75M703.35 215.4H710.75" stroke="#ff0000" stroke-width="1.4" fill="none"/>
<rect x="111.45" y="320.3" width="7.3" height="3.65" fill="#ff0000"/><rect x="111.45" y="316.65" width="7.3" height="7.3" fill="none" stroke="#ff0000" stroke-width="2.7"/>
<rect x="128.36" y="319" width="7.3" height="3.65" fill="#ff0000"/><rect x="128.36" y="315.35" width="7.3" height="7.3" fill="none" stroke="#ff0000" stroke-width="2.7"/>
<rect x="145.28" y="317.2" width="7.3" height="3.65" fill="#ff0000"/><rect x="145.28" y="313.55" width="7.3" height="7.3" fill="none" stroke="#ff0000" stroke-width="2.7"/>
<rect x="162.19" y="314.9" width="7.3" height="3.65" fill="#ff0000"/><rect x="162.19" y="311.25" width="7.3" height="7.3" fill="none" stroke="#ff0000" stroke-width="2.7"/>
<rect x="179.1" y="313.6" width="7.3" height="3.65" fill="#ff0000"/><rect x="179.1" y="309.95" width="7.3" height="7.3" fill="none" stroke="#ff0000" stroke-width="2.7"/>
<rect x="196.01" y="310.9" width="7.3" height="3.65" fill="#ff0000"/><rect x="196.01" y="307.25" width="7.3" height="7.3" fill="none" stroke="#ff0000" stroke-width="2.7"/>
<rect x="212.93" y="308" width="7.3" height="3.65" fill="#ff0000"/><rect x="212.93" y="304.35" width="7.3" height="7.3" fill="none" stroke="#ff0000" stroke-width="2.7"/>
<rect x="229.84" y="307.5" width="7.3" height="3.65" fill="#ff0000"/><rect x="229.84" y="303.85" width="7.3" height="7.3" fill="none" stroke="#ff0000" stroke-width="2.7"/>
<rect x="246.75" y="303" width="7.3" height="3.65" fill="#ff0000"/><rect x="246.75" y="299.35" width="7.3" height="7.3" fill="none" stroke="#ff0000" stroke-width="2.7"/>
<rect x="263.67" y="299" width="7.3" height="3.65" fill="#ff0000"/><rect x="263.67" y="295.35" width="7.3" height="7.3" fill="none" stroke="#ff0000" stroke-width="2.7"/>
<rect x="280.58" y="296" width="7.3" height="3.65" fill="#ff0000"/><rect x="280.58" y="292.35" width="7.3" height="7.3" fill="none" stroke="#ff0000" stroke-width="2.7"/>
<rect x="297.49" y="293.1" width="7.3" height="3.65" fill="#ff0000"/><rect x="297.49" y="289.45" width="7.3" height="7.3" fill="none" stroke="#ff0000" stroke-width="2.7"/>
<rect x="314.4" y="288.5" width="7.3" height="3.65" fill="#ff0000"/><rect x="314.4" y="284.85" width="7.3" height="7.3" fill="none" stroke="#ff0000" stroke-width="2.7"/>
<rect x="331.32" y="286" width="7.3" height="3.65" fill="#ff0000"/><rect x="331.32" y="282.35" width="7.3" height="7.3" fill="none" stroke="#ff0000" stroke-width="2.7"/>
<rect x="348.23" y="279" width="7.3" height="3.65" fill="#ff0000"/><rect x="348.23" y="275.35" width="7.3" height="7.3" fill="none" stroke="#ff0000" stroke-width="2.7"/>
<rect x="365.14" y="274.5" width="7.3" height="3.65" fill="#ff0000"/><rect x="365.14" y="270.85" width="7.3" height="7.3" fill="none" stroke="#ff0000" stroke-width="2.7"/>
<rect x="382.06" y="268.9" width="7.3" height="3.65" fill="#ff0000"/><rect x="382.06" y="265.25" width="7.3" height="7.3" fill="none" stroke="#ff0000" stroke-width="2.7"/>
<rect x="398.97" y="264.4" width="7.3" height="3.65" fill="#ff0000"/><rect x="398.97" y="260.75" width="7.3" height="7.3" fill="none" stroke="#ff0000" stroke-width="2.7"/>
<rect x="415.88" y="258.7" width="7.3" height="3.65" fill="#ff0000"/><rect x="415.88" y="255.05" width="7.3" height="7.3" fill="none" stroke="#ff0000" stroke-width="2.7"/>
<rect x="432.79" y="254.3" width="7.3" height="3.65" fill="#ff0000"/><rect x="432.79" y="250.65" width="7.3" height="7.3" fill="none" stroke="#ff0000" stroke-width="2.7"/>
<rect x="449.71" y="249.4" width="7.3" height="3.65" fill="#ff0000"/><rect x="449.71" y="245.75" width="7.3" height="7.3" fill="none" stroke="#ff0000" stroke-width="2.7"/>
<rect x="466.62" y="245.4" width="7.3" height="3.65" fill="#ff0000"/><rect x="466.62" y="241.75" width="7.3" height="7.3" fill="none" stroke="#ff0000" stroke-width="2.7"/>
<rect x="483.53" y="241.2" width="7.3" height="3.65" fill="#ff0000"/><rect x="483.53" y="237.55" width="7.3" height="7.3" fill="none" stroke="#ff0000" stroke-width="2.7"/>
<rect x="500.45" y="236.9" width="7.3" height="3.65" fill="#ff0000"/><rect x="500.45" y="233.25" width="7.3" height="7.3" fill="none" stroke="#ff0000" stroke-width="2.7"/>
<rect x="517.36" y="233.2" width="7.3" height="3.65" fill="#ff0000"/><rect x="517.36" y="229.55" width="7.3" height="7.3" fill="none" stroke="#ff0000" stroke-width="2.7"/>
<rect x="534.27" y="230.6" width="7.3" height="3.65" fill="#ff0000"/><rect x="534.27" y="226.95" width="7.3" height="7.3" fill="none" stroke="#ff0000" stroke-width="2.7"/>
<rect x="551.18" y="227.6" width="7.3" height="3.65" fill="#ff0000"/><rect x="551.18" y="223.95" width="7.3" height="7.3" fill="none" stroke="#ff0000" stroke-width="2.7"/>
<rect x="568.1" y="225.3" width="7.3" height="3.65" fill="#ff0000"/><rect x="568.1" y="221.65" width="7.3" height="7.3" fill="none" stroke="#ff0000" stroke-width="2.7"/>
<rect x="585.01" y="223.7" width="7.3" height="3.65" fill="#ff0000"/><rect x="585.01" y="220.05" width="7.3" height="7.3" fill="none" stroke="#ff0000" stroke-width="2.7"/>
<rect x="601.92" y="222.7" width="7.3" height="3.65" fill="#ff0000"/><rect x="601.92" y="219.05" width="7.3" height="7.3" fill="none" stroke="#ff0000" stroke-width="2.7"/>
<rect x="618.84" y="221.6" width="7.3" height="3.65" fill="#ff0000"/><rect x="618.84" y="217.95" width="7.3" height="7.3" fill="none" stroke="#ff0000" stroke-width="2.7"/>
<rect x="635.75" y="219.1" width="7.3" height="3.65" fill="#ff0000"/><rect x="635.75" y="215.45" width="7.3" height="7.3" fill="none" stroke="#ff0000" stroke-width="2.7"/>
<rect x="652.66" y="218.1" width="7.3" height="3.65" fill="#ff0000"/><rect x="652.66" y="214.45" width="7.3" height="7.3" fill="none" stroke="#ff0000" stroke-width="2.7"/>
<rect x="669.57" y="216.6" width="7.3" height="3.65" fill="#ff0000"/><rect x="669.57" y="212.95" width="7.3" height="7.3" fill="none" stroke="#ff0000" stroke-width="2.7"/>
<rect x="686.49" y="215.9" width="7.3" height="3.65" fill="#ff0000"/><rect x="686.49" y="212.25" width="7.3" height="7.3" fill="none" stroke="#ff0000" stroke-width="2.7"/>
<rect x="703.4" y="215" width="7.3" height="3.65" fill="#ff0000"/><rect x="703.4" y="211.35" width="7.3" height="7.3" fill="none" stroke="#ff0000" stroke-width="2.7"/>
<polyline points="115.1,335 132.01,334 148.93,333.3 165.84,332.4 182.75,331.4 199.66,329.7 216.58,329 233.49,327.2 250.4,326.5 267.32,324.3 284.23,322.6 301.14,321.7 318.05,317.1 334.97,314 351.88,308.7 368.79,304.9 385.71,298.2 402.62,290.2 419.53,283.5 436.44,274.3 453.36,265.9 470.27,255.5 487.18,248 504.1,242.5 521.01,236.1 537.92,232.7 554.83,229.6 571.75,227.6 588.66,224.8 605.57,223.7 622.49,221.9 639.4,220.7 656.31,219.9 673.22,218.8 690.14,217.5 707.05,216.7" fill="none" stroke="#006400" stroke-width="1.15" stroke-linejoin="round"/>
<path d="M111.4 335H118.8" stroke="#006400" stroke-width="1.15" fill="none"/>
<path d="M128.31 334H135.71" stroke="#006400" stroke-width="1.15" fill="none"/>
<path d="M145.23 333.3H152.63" stroke="#006400" stroke-width="1.15" fill="none"/>
<path d="M162.14 332.4H169.54" stroke="#006400" stroke-width="1.15" fill="none"/>
<path d="M179.05 331.4H186.45" stroke="#006400" stroke-width="1.15" fill="none"/>
<path d="M195.96 329.7H203.36" stroke="#006400" stroke-width="1.15" fill="none"/>
<path d="M212.88 329H220.28" stroke="#006400" stroke-width="1.15" fill="none"/>
<path d="M229.79 327.2H237.19" stroke="#006400" stroke-width="1.15" fill="none"/>
<path d="M246.7 326.5H254.1" stroke="#006400" stroke-width="1.15" fill="none"/>
<path d="M263.62 324.3H271.02" stroke="#006400" stroke-width="1.15" fill="none"/>
<path d="M280.53 322.6H287.93" stroke="#006400" stroke-width="1.15" fill="none"/>
<path d="M297.44 321.7H304.84" stroke="#006400" stroke-width="1.15" fill="none"/>
<path d="M314.35 317.1H321.75" stroke="#006400" stroke-width="1.15" fill="none"/>
<path d="M331.27 314H338.67" stroke="#006400" stroke-width="1.15" fill="none"/>
<path d="M348.18 308.7H355.58" stroke="#006400" stroke-width="1.15" fill="none"/>
<path d="M365.09 304.9H372.49" stroke="#006400" stroke-width="1.15" fill="none"/>
<path d="M382.01 298.2H389.41" stroke="#006400" stroke-width="1.15" fill="none"/>
<path d="M398.92 290.2H406.32" stroke="#006400" stroke-width="1.15" fill="none"/>
<path d="M415.83 283.5H423.23" stroke="#006400" stroke-width="1.15" fill="none"/>
<path d="M432.74 274.3H440.14" stroke="#006400" stroke-width="1.15" fill="none"/>
<path d="M449.66 265.9H457.06" stroke="#006400" stroke-width="1.15" fill="none"/>
<path d="M466.57 255.5H473.97" stroke="#006400" stroke-width="1.15" fill="none"/>
<path d="M483.48 248H490.88" stroke="#006400" stroke-width="1.15" fill="none"/>
<path d="M500.4 242.5H507.8" stroke="#006400" stroke-width="1.15" fill="none"/>
<path d="M517.31 236.1H524.71" stroke="#006400" stroke-width="1.15" fill="none"/>
<path d="M534.22 232.7H541.62" stroke="#006400" stroke-width="1.15" fill="none"/>
<path d="M551.13 229.6H558.53" stroke="#006400" stroke-width="1.15" fill="none"/>
<path d="M568.05 227.6H575.45" stroke="#006400" stroke-width="1.15" fill="none"/>
<path d="M584.96 224.8H592.36" stroke="#006400" stroke-width="1.15" fill="none"/>
<path d="M601.87 223.7H609.27" stroke="#006400" stroke-width="1.15" fill="none"/>
<path d="M618.79 221.9H626.19" stroke="#006400" stroke-width="1.15" fill="none"/>
<path d="M635.7 220.7H643.1" stroke="#006400" stroke-width="1.15" fill="none"/>
<path d="M652.61 219.9H660.01" stroke="#006400" stroke-width="1.15" fill="none"/>
<path d="M669.52 218.8H676.92" stroke="#006400" stroke-width="1.15" fill="none"/>
<path d="M686.44 217.5H693.84" stroke="#006400" stroke-width="1.15" fill="none"/>
<path d="M703.35 216.7H710.75" stroke="#006400" stroke-width="1.15" fill="none"/>
<rect x="110.3" y="330.2" width="9.6" height="9.6" fill="#006400"/>
<rect x="127.21" y="329.2" width="9.6" height="9.6" fill="#006400"/>
<rect x="144.13" y="328.5" width="9.6" height="9.6" fill="#006400"/>
<rect x="161.04" y="327.6" width="9.6" height="9.6" fill="#006400"/>
<rect x="177.95" y="326.6" width="9.6" height="9.6" fill="#006400"/>
<rect x="194.86" y="324.9" width="9.6" height="9.6" fill="#006400"/>
<rect x="211.78" y="324.2" width="9.6" height="9.6" fill="#006400"/>
<rect x="228.69" y="322.4" width="9.6" height="9.6" fill="#006400"/>
<rect x="245.6" y="321.7" width="9.6" height="9.6" fill="#006400"/>
<rect x="262.52" y="319.5" width="9.6" height="9.6" fill="#006400"/>
<rect x="279.43" y="317.8" width="9.6" height="9.6" fill="#006400"/>
<rect x="296.34" y="316.9" width="9.6" height="9.6" fill="#006400"/>
<rect x="313.25" y="312.3" width="9.6" height="9.6" fill="#006400"/>
<rect x="330.17" y="309.2" width="9.6" height="9.6" fill="#006400"/>
<rect x="347.08" y="303.9" width="9.6" height="9.6" fill="#006400"/>
<rect x="363.99" y="300.1" width="9.6" height="9.6" fill="#006400"/>
<rect x="380.91" y="293.4" width="9.6" height="9.6" fill="#006400"/>
<rect x="397.82" y="285.4" width="9.6" height="9.6" fill="#006400"/>
<rect x="414.73" y="278.7" width="9.6" height="9.6" fill="#006400"/>
<rect x="431.64" y="269.5" width="9.6" height="9.6" fill="#006400"/>
<rect x="448.56" y="261.1" width="9.6" height="9.6" fill="#006400"/>
<rect x="465.47" y="250.7" width="9.6" height="9.6" fill="#006400"/>
<rect x="482.38" y="243.2" width="9.6" height="9.6" fill="#006400"/>
<rect x="499.3" y="237.7" width="9.6" height="9.6" fill="#006400"/>
<rect x="516.21" y="231.3" width="9.6" height="9.6" fill="#006400"/>
<rect x="533.12" y="227.9" width="9.6" height="9.6" fill="#006400"/>
<rect x="550.03" y="224.8" width="9.6" height="9.6" fill="#006400"/>
<rect x="566.95" y="222.8" width="9.6" height="9.6" fill="#006400"/>
<rect x="583.86" y="220" width="9.6" height="9.6" fill="#006400"/>
<rect x="600.77" y="218.9" width="9.6" height="9.6" fill="#006400"/>
<rect x="617.69" y="217.1" width="9.6" height="9.6" fill="#006400"/>
<rect x="634.6" y="215.9" width="9.6" height="9.6" fill="#006400"/>
<rect x="651.51" y="215.1" width="9.6" height="9.6" fill="#006400"/>
<rect x="668.42" y="214" width="9.6" height="9.6" fill="#006400"/>
<rect x="685.34" y="212.7" width="9.6" height="9.6" fill="#006400"/>
<rect x="702.25" y="211.9" width="9.6" height="9.6" fill="#006400"/>
<polyline points="115.1,340.4 132.01,340.1 148.93,339.6 165.84,339.2 182.75,338.7 199.66,337.5 216.58,336.5 233.49,335.4 250.4,335.1 267.32,332.4 284.23,331.6 301.14,329.9 318.05,327.7 334.97,326 351.88,321.4 368.79,318.3 385.71,314.2 402.62,306.3 419.53,297.1 436.44,289.3 453.36,275.8 470.27,265.3 487.18,251.4 504.1,244.6 521.01,239.5 537.92,235.2 554.83,231.8 571.75,229 588.66,226.3 605.57,224.2 622.49,222.9 639.4,221.2 656.31,220 673.22,219.1 690.14,217.8 707.05,216.6" fill="none" stroke="#ee82ee" stroke-width="1.9" stroke-linejoin="round"/>
<path d="M115.1 340.1V340.7M111.4 340.1H118.8M111.4 340.7H118.8" stroke="#ee82ee" stroke-width="1.9" fill="none"/>
<path d="M132.01 339.8V340.4M128.31 339.8H135.71M128.31 340.4H135.71" stroke="#ee82ee" stroke-width="1.9" fill="none"/>
<path d="M148.93 339.3V339.9M145.23 339.3H152.63M145.23 339.9H152.63" stroke="#ee82ee" stroke-width="1.9" fill="none"/>
<path d="M165.84 338.9V339.5M162.14 338.9H169.54M162.14 339.5H169.54" stroke="#ee82ee" stroke-width="1.9" fill="none"/>
<path d="M182.75 338.4V339M179.05 338.4H186.45M179.05 339H186.45" stroke="#ee82ee" stroke-width="1.9" fill="none"/>
<path d="M199.66 337.2V337.8M195.96 337.2H203.36M195.96 337.8H203.36" stroke="#ee82ee" stroke-width="1.9" fill="none"/>
<path d="M216.58 336.2V336.8M212.88 336.2H220.28M212.88 336.8H220.28" stroke="#ee82ee" stroke-width="1.9" fill="none"/>
<path d="M233.49 335.1V335.7M229.79 335.1H237.19M229.79 335.7H237.19" stroke="#ee82ee" stroke-width="1.9" fill="none"/>
<path d="M250.4 334.8V335.4M246.7 334.8H254.1M246.7 335.4H254.1" stroke="#ee82ee" stroke-width="1.9" fill="none"/>
<path d="M267.32 332.1V332.7M263.62 332.1H271.02M263.62 332.7H271.02" stroke="#ee82ee" stroke-width="1.9" fill="none"/>
<path d="M284.23 331.3V331.9M280.53 331.3H287.93M280.53 331.9H287.93" stroke="#ee82ee" stroke-width="1.9" fill="none"/>
<path d="M301.14 329.6V330.2M297.44 329.6H304.84M297.44 330.2H304.84" stroke="#ee82ee" stroke-width="1.9" fill="none"/>
<path d="M318.05 327.4V328M314.35 327.4H321.75M314.35 328H321.75" stroke="#ee82ee" stroke-width="1.9" fill="none"/>
<path d="M334.97 325.7V326.3M331.27 325.7H338.67M331.27 326.3H338.67" stroke="#ee82ee" stroke-width="1.9" fill="none"/>
<path d="M351.88 321.1V321.7M348.18 321.1H355.58M348.18 321.7H355.58" stroke="#ee82ee" stroke-width="1.9" fill="none"/>
<path d="M368.79 318V318.6M365.09 318H372.49M365.09 318.6H372.49" stroke="#ee82ee" stroke-width="1.9" fill="none"/>
<path d="M385.71 313.9V314.5M382.01 313.9H389.41M382.01 314.5H389.41" stroke="#ee82ee" stroke-width="1.9" fill="none"/>
<path d="M402.62 306V306.6M398.92 306H406.32M398.92 306.6H406.32" stroke="#ee82ee" stroke-width="1.9" fill="none"/>
<path d="M419.53 296.8V297.4M415.83 296.8H423.23M415.83 297.4H423.23" stroke="#ee82ee" stroke-width="1.9" fill="none"/>
<path d="M436.44 289V289.6M432.74 289H440.14M432.74 289.6H440.14" stroke="#ee82ee" stroke-width="1.9" fill="none"/>
<path d="M453.36 274.3V277.3M449.66 274.3H457.06M449.66 277.3H457.06" stroke="#ee82ee" stroke-width="1.9" fill="none"/>
<path d="M470.27 263.8V266.8M466.57 263.8H473.97M466.57 266.8H473.97" stroke="#ee82ee" stroke-width="1.9" fill="none"/>
<path d="M487.18 249.9V252.9M483.48 249.9H490.88M483.48 252.9H490.88" stroke="#ee82ee" stroke-width="1.9" fill="none"/>
<path d="M504.1 244.3V244.9M500.4 244.3H507.8M500.4 244.9H507.8" stroke="#ee82ee" stroke-width="1.9" fill="none"/>
<path d="M521.01 239.2V239.8M517.31 239.2H524.71M517.31 239.8H524.71" stroke="#ee82ee" stroke-width="1.9" fill="none"/>
<path d="M537.92 234.9V235.5M534.22 234.9H541.62M534.22 235.5H541.62" stroke="#ee82ee" stroke-width="1.9" fill="none"/>
<path d="M554.83 231.5V232.1M551.13 231.5H558.53M551.13 232.1H558.53" stroke="#ee82ee" stroke-width="1.9" fill="none"/>
<path d="M571.75 228.7V229.3M568.05 228.7H575.45M568.05 229.3H575.45" stroke="#ee82ee" stroke-width="1.9" fill="none"/>
<path d="M588.66 226V226.6M584.96 226H592.36M584.96 226.6H592.36" stroke="#ee82ee" stroke-width="1.9" fill="none"/>
<path d="M605.57 223.9V224.5M601.87 223.9H609.27M601.87 224.5H609.27" stroke="#ee82ee" stroke-width="1.9" fill="none"/>
<path d="M622.49 222.6V223.2M618.79 222.6H626.19M618.79 223.2H626.19" stroke="#ee82ee" stroke-width="1.9" fill="none"/>
<path d="M639.4 220.9V221.5M635.7 220.9H643.1M635.7 221.5H643.1" stroke="#ee82ee" stroke-width="1.9" fill="none"/>
<path d="M656.31 219.7V220.3M652.61 219.7H660.01M652.61 220.3H660.01" stroke="#ee82ee" stroke-width="1.9" fill="none"/>
<path d="M673.22 218.8V219.4M669.52 218.8H676.92M669.52 219.4H676.92" stroke="#ee82ee" stroke-width="1.9" fill="none"/>
<path d="M690.14 217.5V218.1M686.44 217.5H693.84M686.44 218.1H693.84" stroke="#ee82ee" stroke-width="1.9" fill="none"/>
<path d="M707.05 216.3V216.9M703.35 216.3H710.75M703.35 216.9H710.75" stroke="#ee82ee" stroke-width="1.9" fill="none"/>
<rect x="111.45" y="336.75" width="7.3" height="7.3" fill="none" stroke="#ee82ee" stroke-width="2.0"/>
<rect x="128.36" y="336.45" width="7.3" height="7.3" fill="none" stroke="#ee82ee" stroke-width="2.0"/>
<rect x="145.28" y="335.95" width="7.3" height="7.3" fill="none" stroke="#ee82ee" stroke-width="2.0"/>
<rect x="162.19" y="335.55" width="7.3" height="7.3" fill="none" stroke="#ee82ee" stroke-width="2.0"/>
<rect x="179.1" y="335.05" width="7.3" height="7.3" fill="none" stroke="#ee82ee" stroke-width="2.0"/>
<rect x="196.01" y="333.85" width="7.3" height="7.3" fill="none" stroke="#ee82ee" stroke-width="2.0"/>
<rect x="212.93" y="332.85" width="7.3" height="7.3" fill="none" stroke="#ee82ee" stroke-width="2.0"/>
<rect x="229.84" y="331.75" width="7.3" height="7.3" fill="none" stroke="#ee82ee" stroke-width="2.0"/>
<rect x="246.75" y="331.45" width="7.3" height="7.3" fill="none" stroke="#ee82ee" stroke-width="2.0"/>
<rect x="263.67" y="328.75" width="7.3" height="7.3" fill="none" stroke="#ee82ee" stroke-width="2.0"/>
<rect x="280.58" y="327.95" width="7.3" height="7.3" fill="none" stroke="#ee82ee" stroke-width="2.0"/>
<rect x="297.49" y="326.25" width="7.3" height="7.3" fill="none" stroke="#ee82ee" stroke-width="2.0"/>
<rect x="314.4" y="324.05" width="7.3" height="7.3" fill="none" stroke="#ee82ee" stroke-width="2.0"/>
<rect x="331.32" y="322.35" width="7.3" height="7.3" fill="none" stroke="#ee82ee" stroke-width="2.0"/>
<rect x="348.23" y="317.75" width="7.3" height="7.3" fill="none" stroke="#ee82ee" stroke-width="2.0"/>
<rect x="365.14" y="314.65" width="7.3" height="7.3" fill="none" stroke="#ee82ee" stroke-width="2.0"/>
<rect x="382.06" y="310.55" width="7.3" height="7.3" fill="none" stroke="#ee82ee" stroke-width="2.0"/>
<rect x="398.97" y="302.65" width="7.3" height="7.3" fill="none" stroke="#ee82ee" stroke-width="2.0"/>
<rect x="415.88" y="293.45" width="7.3" height="7.3" fill="none" stroke="#ee82ee" stroke-width="2.0"/>
<rect x="432.79" y="285.65" width="7.3" height="7.3" fill="none" stroke="#ee82ee" stroke-width="2.0"/>
<rect x="449.71" y="272.15" width="7.3" height="7.3" fill="none" stroke="#ee82ee" stroke-width="2.0"/>
<rect x="466.62" y="261.65" width="7.3" height="7.3" fill="none" stroke="#ee82ee" stroke-width="2.0"/>
<rect x="483.53" y="247.75" width="7.3" height="7.3" fill="none" stroke="#ee82ee" stroke-width="2.0"/>
<rect x="500.45" y="240.95" width="7.3" height="7.3" fill="none" stroke="#ee82ee" stroke-width="2.0"/>
<rect x="517.36" y="235.85" width="7.3" height="7.3" fill="none" stroke="#ee82ee" stroke-width="2.0"/>
<rect x="534.27" y="231.55" width="7.3" height="7.3" fill="none" stroke="#ee82ee" stroke-width="2.0"/>
<rect x="551.18" y="228.15" width="7.3" height="7.3" fill="none" stroke="#ee82ee" stroke-width="2.0"/>
<rect x="568.1" y="225.35" width="7.3" height="7.3" fill="none" stroke="#ee82ee" stroke-width="2.0"/>
<rect x="585.01" y="222.65" width="7.3" height="7.3" fill="none" stroke="#ee82ee" stroke-width="2.0"/>
<rect x="601.92" y="220.55" width="7.3" height="7.3" fill="none" stroke="#ee82ee" stroke-width="2.0"/>
<rect x="618.84" y="219.25" width="7.3" height="7.3" fill="none" stroke="#ee82ee" stroke-width="2.0"/>
<rect x="635.75" y="217.55" width="7.3" height="7.3" fill="none" stroke="#ee82ee" stroke-width="2.0"/>
<rect x="652.66" y="216.35" width="7.3" height="7.3" fill="none" stroke="#ee82ee" stroke-width="2.0"/>
<rect x="669.57" y="215.45" width="7.3" height="7.3" fill="none" stroke="#ee82ee" stroke-width="2.0"/>
<rect x="686.49" y="214.15" width="7.3" height="7.3" fill="none" stroke="#ee82ee" stroke-width="2.0"/>
<rect x="703.4" y="212.95" width="7.3" height="7.3" fill="none" stroke="#ee82ee" stroke-width="2.0"/>
</g>
<g font-family="'Liberation Serif', serif" fill="#000" stroke="#000" stroke-width="0.3" style="will-change:transform">
<g transform="translate(139.6 98.9)"><text transform="translate(0 0)" font-size="28.5">S</text><text transform="translate(15.85 7.9)" font-size="22.8">D</text><text transform="translate(32.32 0)" font-size="28.5">(</text><text transform="translate(41.81 0) scale(1.1 1.13)" font-size="28.5">π</text><text transform="translate(57.63 0)" font-size="28.5">/</text><text transform="translate(65.55 0)" font-size="28.5">2</text><text transform="translate(79.8 0)" font-size="28.5">)</text></g>
<g transform="translate(315.2 98.9)"><text transform="translate(-65.15 0)" font-size="28.5">N=</text><text transform="translate(-28.5 0) scale(1 1.06)" font-size="28.5">10</text></g>
<g transform="translate(315.2 135.8)"><text transform="translate(-65.15 0)" font-size="28.5">N=</text><text transform="translate(-28.5 0) scale(1 1.06)" font-size="28.5">20</text></g>
<g transform="translate(315.2 169.8)"><text transform="translate(-65.15 0)" font-size="28.5">N=</text><text transform="translate(-28.5 0) scale(1 1.06)" font-size="28.5">30</text></g>
<g transform="translate(471.4 101.4)"><text transform="translate(0 0)" font-size="28.5">S(</text><text transform="translate(25.34 0) scale(1.1 1.13)" font-size="28.5">π</text><text transform="translate(41.17 0)" font-size="28.5">/2)</text></g>
<g transform="translate(630.6 101.3)"><text transform="translate(-65.15 0)" font-size="28.5">N=</text><text transform="translate(-28.5 0) scale(1 1.06)" font-size="28.5">10</text></g>
<g transform="translate(630.6 135.7)"><text transform="translate(-65.15 0)" font-size="28.5">N=</text><text transform="translate(-28.5 0) scale(1 1.06)" font-size="28.5">20</text></g>
<g transform="translate(630.6 169.7)"><text transform="translate(-65.15 0)" font-size="28.5">N=</text><text transform="translate(-28.5 0) scale(1 1.06)" font-size="28.5">30</text></g>
</g>
<path d="M332.4 92.1H374.6M332.4 88.4v7.4M374.6 88.4v7.4" stroke="#0000ff" stroke-width="1.6" fill="none"/><path d="M349.25 92.1A4.25 4.25 0 0 1 357.75 92.1Z" fill="#0000ff"/><circle cx="353.5" cy="92.1" r="4.25" fill="none" stroke="#0000ff" stroke-width="2.7"/>
<path d="M332.4 126.5H374.6M332.4 122.8v7.4M374.6 122.8v7.4" stroke="#ff00ff" stroke-width="1.3" fill="none"/><circle cx="353.5" cy="126.5" r="4.6" fill="#ff00ff"/>
<path d="M332.4 160.6H374.6M332.4 156.9v7.4M374.6 156.9v7.4" stroke="#00ff00" stroke-width="1.45" fill="none"/><circle cx="353.5" cy="160.6" r="4.25" fill="none" stroke="#00ff00" stroke-width="1.4"/>
<path d="M647.75 92.1H689.95M647.75 88.4v7.4M689.95 88.4v7.4" stroke="#ff0000" stroke-width="1.4" fill="none"/><rect x="665.2" y="92.1" width="7.3" height="3.65" fill="#ff0000"/><rect x="665.2" y="88.45" width="7.3" height="7.3" fill="none" stroke="#ff0000" stroke-width="2.7"/>
<path d="M647.75 126.4H689.95M647.75 122.7v7.4M689.95 122.7v7.4" stroke="#006400" stroke-width="1.15" fill="none"/><rect x="664.05" y="121.6" width="9.6" height="9.6" fill="#006400"/>
<path d="M647.75 160.7H689.95M647.75 157v7.4M689.95 157v7.4" stroke="#ee82ee" stroke-width="1.9" fill="none"/><rect x="665.2" y="157.05" width="7.3" height="7.3" fill="none" stroke="#ee82ee" stroke-width="2.0"/>
<g style="will-change:transform"><text x="126.9" y="62.8" font-family="'Liberation Sans', sans-serif" font-size="30" letter-spacing="0.45" fill="#000">(a)</text></g>
<g font-family="'Liberation Serif', serif" fill="#000" stroke="#000" stroke-width="0.3" style="will-change:transform">
<g transform="translate(408.5 555.3)"><text transform="translate(0 0)" font-size="44.5">V</text><text transform="translate(32.14 14.1)" font-size="36">3</text></g>
<g transform="translate(36 305.5) rotate(-90)"><text transform="translate(0 0)" font-size="40">S</text><text transform="translate(22.25 11.6)" font-size="32.0">D</text><text transform="translate(45.36 0)" font-size="40">(</text><text transform="translate(58.68 0) scale(1.1 1.13)" font-size="40">π</text><text transform="translate(80.89 0)" font-size="40">/</text><text transform="translate(92 0)" font-size="40">2</text><text transform="translate(112 0)" font-size="40">)</text></g>
<g transform="translate(815 296.4) rotate(-90)"><text transform="translate(0 0)" font-size="40">S(</text><text transform="translate(35.57 0) scale(1.1 1.13)" font-size="40">π</text><text transform="translate(57.78 0)" font-size="40">/2)</text></g>
</g>
<path d="M157.38 489.5v-3.7M157.38 28.95v3.7M199.66 489.5v-7.4M199.66 28.95v7.4M241.95 489.5v-3.7M241.95 28.95v3.7M284.23 489.5v-7.4M284.23 28.95v7.4M326.51 489.5v-3.7M326.51 28.95v3.7M368.79 489.5v-7.4M368.79 28.95v7.4M411.07 489.5v-3.7M411.07 28.95v3.7M453.36 489.5v-7.4M453.36 28.95v7.4M495.64 489.5v-3.7M495.64 28.95v3.7M537.92 489.5v-7.4M537.92 28.95v7.4M580.2 489.5v-3.7M580.2 28.95v3.7M622.49 489.5v-7.4M622.49 28.95v7.4M664.77 489.5v-3.7M664.77 28.95v3.7M115.1 443.44h3.7M707.05 443.44h-3.7M115.1 397.39h7.4M707.05 397.39h-7.4M115.1 351.34h3.7M707.05 351.34h-3.7M115.1 305.28h7.4M707.05 305.28h-7.4M115.1 259.23h3.7M707.05 259.23h-3.7M115.1 213.17h7.4M707.05 213.17h-7.4M115.1 167.12h3.7M707.05 167.12h-3.7M115.1 121.06h7.4M707.05 121.06h-7.4M115.1 75h3.7M707.05 75h-3.7" stroke="#2a2a2a" stroke-width="0.85" fill="none"/>
<rect x="115.1" y="28.95" width="591.95" height="460.55" fill="none" stroke="#1e1e1e" stroke-width="1.85"/>
</svg>
</body>
</html>
